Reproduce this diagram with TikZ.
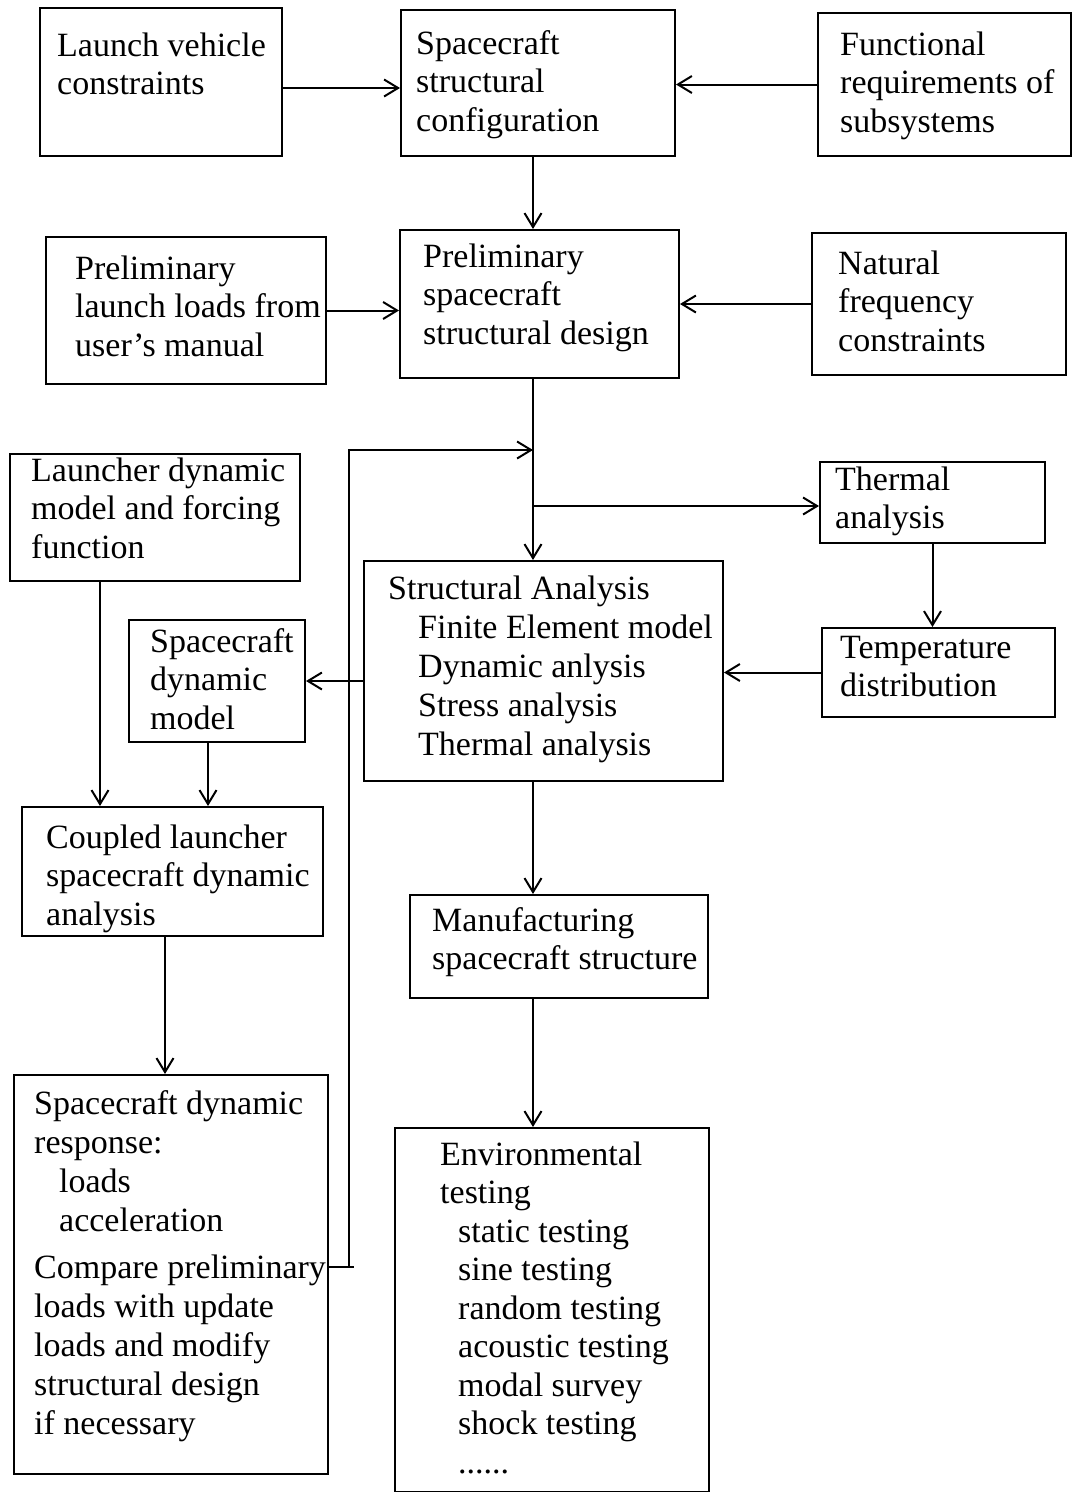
\documentclass[tikz,border=0pt]{standalone}
\usepackage{fontspec}
\setmainfont{Liberation Serif}
\usetikzlibrary{arrows.meta}
\begin{document}
\begin{tikzpicture}[x=1pt,y=-1pt,
  box/.style={draw, line width=2pt, rectangle, inner sep=0pt, anchor=north west},
  txt/.style={anchor=north west, inner sep=0pt, align=left, font=\fontsize{34}{38.5}\selectfont},
  txtw/.style={txt, font=\fontsize{34}{39}\selectfont},
  arr/.style={line width=2pt, -{Straight Barb[length=14pt,width=17pt,line width=2pt]}},
  ln/.style={line width=2pt}]
\useasboundingbox (0,0) rectangle (1073,1492);

% boxes
\node[box, minimum width=242pt, minimum height=148pt] (A) at (39,7) {};
\node[box, minimum width=274pt, minimum height=146pt] (B) at (400,9) {};
\node[box, minimum width=253pt, minimum height=143pt] (C) at (817,12) {};
\node[box, minimum width=280pt, minimum height=147pt] (D) at (45,236) {};
\node[box, minimum width=279pt, minimum height=148pt] (E) at (399,229) {};
\node[box, minimum width=254pt, minimum height=142pt] (F) at (811,232) {};
\node[box, minimum width=290pt, minimum height=127pt] (G) at (9,453) {};
\node[box, minimum width=225pt, minimum height=81pt] (H) at (819,461) {};
\node[box, minimum width=359pt, minimum height=220pt] (I) at (363,560) {};
\node[box, minimum width=176pt, minimum height=122pt] (J) at (128,619) {};
\node[box, minimum width=233pt, minimum height=89pt] (K) at (821,627) {};
\node[box, minimum width=301pt, minimum height=129pt] (L) at (21,806) {};
\node[box, minimum width=298pt, minimum height=103pt] (M) at (409,894) {};
\node[box, minimum width=314pt, minimum height=399pt] (N) at (13,1074) {};
\node[box, minimum width=314pt, minimum height=364pt] (O) at (394,1127) {};

% texts
\node[txt] (At) at (57,29) {\strut Launch vehicle\\constraints};
\node[txt] (Bt) at (416,27) {\strut Spacecraft\\structural\\configuration};
\node[txt] (Ct) at (840,28) {\strut Functional\\requirements of\\subsystems};
\node[txt] (Dt) at (75,252) {\strut Preliminary\\launch loads from\\user’s manual};
\node[txt] (Et) at (423,240) {\strut Preliminary\\spacecraft\\structural design};
\node[txt] (Ft) at (838,247) {\strut Natural\\frequency\\constraints};
\node[txt] (Gt) at (31,454) {\strut Launcher dynamic\\model and forcing\\function};
\node[txt] (Ht) at (835,463) {\strut Thermal\\analysis};
\node[txtw] (It) at (388,572) {\strut Structural Analysis\\
  \hspace*{30pt}Finite Element model\\
  \hspace*{30pt}Dynamic anlysis\\
  \hspace*{30pt}Stress analysis\\
  \hspace*{30pt}Thermal analysis};
\node[txt] (Jt) at (150,625) {\strut Spacecraft\\dynamic\\model};
\node[txt] (Kt) at (840,631) {\strut Temperature\\distribution};
\node[txt] (Lt) at (46,821) {\strut Coupled launcher\\spacecraft dynamic\\analysis};
\node[txt] (Mt) at (432,904) {\strut Manufacturing\\spacecraft structure};
\node[txtw] (Nt) at (34,1087) {\strut Spacecraft dynamic\\response:\\
  \hspace*{25pt}loads\\
  \hspace*{25pt}acceleration\\[8pt]
  Compare preliminary\\loads with update\\loads and modify\\structural design\\if necessary};
\node[txt] (Ot) at (440,1138) {\strut Environmental\\testing\\
  \hspace*{18pt}static testing\\
  \hspace*{18pt}sine testing\\
  \hspace*{18pt}random testing\\
  \hspace*{18pt}acoustic testing\\
  \hspace*{18pt}modal survey\\
  \hspace*{18pt}shock testing\\
  \hspace*{18pt}......};

% helper coordinates
\coordinate (spine) at (533,0);
\coordinate (br) at (533,506);
\coordinate (gx) at (100,0);
\coordinate (jx) at (208,0);
\coordinate (lx) at (165,0);
\coordinate (fb1) at (349,1267);
\coordinate (fb2) at (349,450);

% connectors
\draw[arr] ([yshift=-6pt]A.east) -- ([yshift=-6pt]A.east -| B.west);
\draw[arr] (C.west) -- (C.west -| B.east);
\draw[arr] (B.south -| spine) -- (E.north -| spine);
\draw[arr] (D.east) -- (D.east -| E.west);
\draw[arr] (F.west) -- (F.west -| E.east);
\draw[arr] (E.south -| spine) -- (I.north -| spine);
\draw[arr] (br) -- (br -| H.west);
\draw[arr] (H.south) -- (H.south |- K.north);
\draw[arr] (K.west) -- (K.west -| I.east);
\draw[arr] (J.east -| I.west) -- (J.east);
\draw[arr] (G.south -| gx) -- (L.north -| gx);
\draw[arr] (J.south -| jx) -- (L.north -| jx);
\draw[arr] (L.south -| lx) -- (N.north -| lx);
\draw[arr] (I.south -| spine) -- (M.north -| spine);
\draw[arr] (M.south -| spine) -- (O.north -| spine);
\draw[ln] (N.east |- fb1) -- ([xshift=5pt]fb1);
\draw[arr] (fb1) -- (fb2) -- (fb2 -| spine);
\end{tikzpicture}
\end{document}
